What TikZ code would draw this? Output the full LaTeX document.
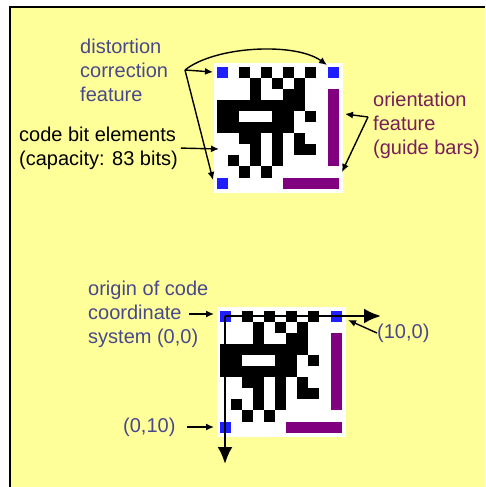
\documentclass[tikz,border=0pt]{standalone}
\usepackage{fontspec}
\setmainfont{Liberation Sans}
\usetikzlibrary{arrows.meta,calc,positioning}

\definecolor{bgyellow}{RGB}{255,255,153}
\definecolor{distc}{RGB}{72,72,140}
\definecolor{orientc}{RGB}{120,30,90}
\definecolor{markblue}{RGB}{30,30,255}
\definecolor{guidec}{RGB}{128,0,128}

\begin{document}
\begin{tikzpicture}[x=1pt,y=-1pt,
  every node/.style={font=\fontsize{20}{24}\selectfont},
  lbl/.style={align=left,inner sep=0pt,anchor=west},
  ptr/.style={-{Latex[length=8pt,width=7pt]},line width=1.4pt},
  axis/.style={-{Latex[length=17pt,width=15pt]},line width=2.5pt}]

\useasboundingbox (0,0) rectangle (485,487);
\fill[white] (0,0) rectangle (485,487);
\fill[bgyellow] (10,7) rectangle (485,487);
\draw[line width=1.5pt] (10,487) -- (10,7) -- (485,7);

%% black modules, one entry per row
\def\bits{{2,4,6,8},{3,5,7},{3,6,7},{0,1,2,3,4,5,6,7},{0,1,5,6,8},{0,1,2,3,4,5,6},{2,3,5,7},{3,5,7,8},{1,3,5},{2,4}}
\def\m{11.05}

%% the two copies of the code
\foreach \ox/\oy in {217/67, 220/311}
{
  \begin{scope}[shift={(\ox,\oy)}]
    \fill[white] (-3,-4) rectangle (126,126);
    \foreach \row [count=\ri from 0] in \bits
      \foreach \c in \row
        \fill (\c*\m,\ri*\m) rectangle ++(\m,\m);
    \foreach \c/\r in {0/0,10/0,0/10}
      \fill[markblue] (\c*\m,\r*\m) rectangle ++(\m,\m);
    \fill[guidec] (10*\m,2*\m) rectangle ++(\m,7*\m);
    \fill[guidec] (6*\m,10*\m) rectangle ++(5*\m,\m);
  \end{scope}
}

%% labels
\node[lbl,text=distc] (distort) at (80,70) {distortion\\correction\\feature};
\node[lbl] (bits) at (19,148) {code bit elements\\(capacity: 83 bits)};
\node[lbl,text=orientc] (orient) at (373,125) {orientation\\feature\\(guide bars)};
\node[lbl,text=distc] (origin) at (88,314) {origin of code\\coordinate\\system (0,0)};
\node[lbl,text=distc] (ten0) at (377,333) {(10,0)};
\node[lbl,text=distc] (zero10) at (123,427) {(0,10)};

%% arrow ends
\coordinate (dj) at (185,70);
\coordinate (tlTip) at (213,72);
\coordinate (trTip) at (327,65);
\coordinate (blTip) at (213,180);
\coordinate (bitsTip) at (219,149);
\coordinate (oj) at (368,117);
\coordinate (barTip) at (345,114);
\coordinate (cornerTip) at (342,172);
\coordinate (oa) at (189,314);
\coordinate (oTip) at (214,314);
\coordinate (tenTip) at (348,320);
\coordinate (zeroTip) at (214,427);
\coordinate (ax0) at (225,316);
\coordinate (axX) at (381,316);
\coordinate (axY) at (225,464);

%% pointers of the upper code
\draw[ptr] (dj) -- (tlTip);
\draw[ptr] (dj) -- (blTip);
\draw[ptr] (dj) .. controls (215,46) and (295,42) .. (trTip);
\draw[ptr,shorten <=3pt] (bits.east) -- (bitsTip);
\draw[ptr] (oj) -- (barTip);
\draw[ptr] (oj) -- (cornerTip);

%% code coordinate system
\draw[axis] (ax0) -- (axX);
\draw[axis] (ax0) -- (axY);
\draw[ptr] (oa) -- (oTip);
\draw[ptr] (ten0.west) -- (tenTip);
\draw[ptr,shorten <=11pt] (zero10.east) -- (zeroTip);
\end{tikzpicture}
\end{document}
